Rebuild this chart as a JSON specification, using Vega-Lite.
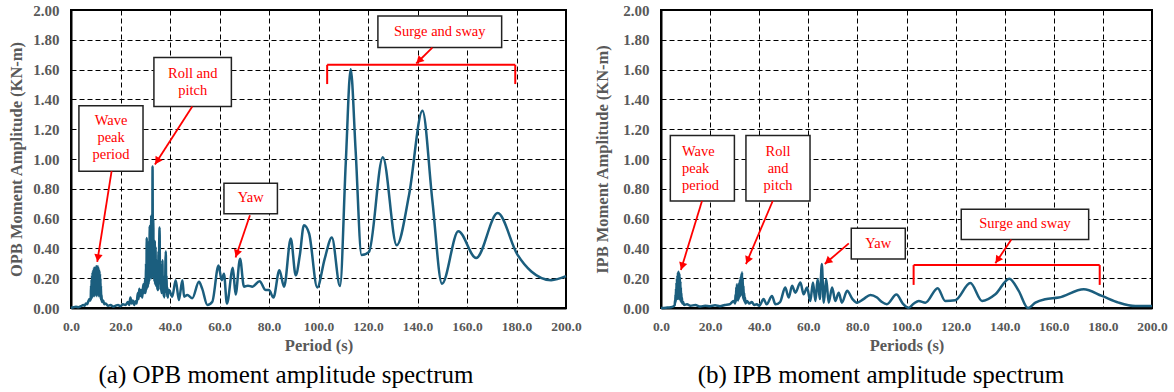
{
  "$schema": "https://vega.github.io/schema/vega-lite/v6.json",
  "background": "white",
  "padding": {"left": 7, "top": 2, "right": 0, "bottom": 0},
  "spacing": 10,
  "config": {
    "font": "Liberation Serif",
    "view": {"stroke": "black", "strokeWidth": 2},
    "axis": {
      "labelFont": "Liberation Serif", "labelFontWeight": "bold", "labelColor": "#595959", "labelFontSize": 15,
      "titleFont": "Liberation Serif", "titleFontWeight": "bold", "titleColor": "#595959", "titleFontSize": 16.5,
      "ticks": false, "domainColor": "black", "domainWidth": 2, "labelOverlap": false,
      "gridColor": "black", "gridDash": [5, 3], "gridWidth": 1, "gridOpacity": 1
    }
  },
  "datasets": {
    "opb": [
      {"period": 0, "amplitude": 0.0}, {"period": 1, "amplitude": 0.005}, {"period": 2, "amplitude": 0.008}, {"period": 3, "amplitude": 0.005},
      {"period": 4, "amplitude": 0.012}, {"period": 5, "amplitude": 0.02}, {"period": 5.5, "amplitude": 0.015}, {"period": 6, "amplitude": 0.03},
      {"period": 6.5, "amplitude": 0.025}, {"period": 7, "amplitude": 0.045}, {"period": 7.5, "amplitude": 0.06}, {"period": 7.8, "amplitude": 0.05},
      {"period": 8.0, "amplitude": 0.08}, {"period": 8.1, "amplitude": 0.15}, {"period": 8.2, "amplitude": 0.06}, {"period": 8.3, "amplitude": 0.19},
      {"period": 8.4, "amplitude": 0.08}, {"period": 8.5, "amplitude": 0.22}, {"period": 8.6, "amplitude": 0.07}, {"period": 8.7, "amplitude": 0.24},
      {"period": 8.8, "amplitude": 0.09}, {"period": 8.9, "amplitude": 0.25}, {"period": 9.0, "amplitude": 0.08}, {"period": 9.1, "amplitude": 0.26},
      {"period": 9.2, "amplitude": 0.1}, {"period": 9.3, "amplitude": 0.27}, {"period": 9.4, "amplitude": 0.08}, {"period": 9.5, "amplitude": 0.27},
      {"period": 9.6, "amplitude": 0.1}, {"period": 9.7, "amplitude": 0.26}, {"period": 9.8, "amplitude": 0.09}, {"period": 9.9, "amplitude": 0.27},
      {"period": 10.0, "amplitude": 0.1}, {"period": 10.1, "amplitude": 0.28}, {"period": 10.2, "amplitude": 0.08}, {"period": 10.3, "amplitude": 0.28},
      {"period": 10.4, "amplitude": 0.1}, {"period": 10.5, "amplitude": 0.28}, {"period": 10.6, "amplitude": 0.09}, {"period": 10.7, "amplitude": 0.27},
      {"period": 10.8, "amplitude": 0.1}, {"period": 10.9, "amplitude": 0.28}, {"period": 11.0, "amplitude": 0.08}, {"period": 11.1, "amplitude": 0.27},
      {"period": 11.2, "amplitude": 0.1}, {"period": 11.3, "amplitude": 0.26}, {"period": 11.4, "amplitude": 0.09}, {"period": 11.5, "amplitude": 0.25},
      {"period": 11.6, "amplitude": 0.08}, {"period": 11.7, "amplitude": 0.23}, {"period": 11.8, "amplitude": 0.07}, {"period": 11.9, "amplitude": 0.2},
      {"period": 12.0, "amplitude": 0.06}, {"period": 12.1, "amplitude": 0.15}, {"period": 12.2, "amplitude": 0.05}, {"period": 12.3, "amplitude": 0.09},
      {"period": 12.5, "amplitude": 0.04}, {"period": 13, "amplitude": 0.05}, {"period": 13.5, "amplitude": 0.025}, {"period": 14, "amplitude": 0.03},
      {"period": 15, "amplitude": 0.015}, {"period": 16, "amplitude": 0.02}, {"period": 17, "amplitude": 0.01}, {"period": 18, "amplitude": 0.015},
      {"period": 19, "amplitude": 0.02}, {"period": 20, "amplitude": 0.012}, {"period": 21, "amplitude": 0.025}, {"period": 22, "amplitude": 0.02},
      {"period": 23, "amplitude": 0.04}, {"period": 23.5, "amplitude": 0.02}, {"period": 24, "amplitude": 0.07}, {"period": 24.5, "amplitude": 0.03},
      {"period": 25, "amplitude": 0.05}, {"period": 25.5, "amplitude": 0.02}, {"period": 26, "amplitude": 0.045}, {"period": 26.5, "amplitude": 0.03},
      {"period": 27, "amplitude": 0.1}, {"period": 27.3, "amplitude": 0.06}, {"period": 27.6, "amplitude": 0.13}, {"period": 28, "amplitude": 0.08},
      {"period": 28.4, "amplitude": 0.12}, {"period": 28.8, "amplitude": 0.07}, {"period": 29.2, "amplitude": 0.16}, {"period": 29.6, "amplitude": 0.1},
      {"period": 30.0, "amplitude": 0.2}, {"period": 30.15, "amplitude": 0.1}, {"period": 30.3, "amplitude": 0.3}, {"period": 30.45, "amplitude": 0.12},
      {"period": 30.6, "amplitude": 0.47}, {"period": 30.75, "amplitude": 0.15}, {"period": 30.9, "amplitude": 0.35}, {"period": 31.05, "amplitude": 0.14},
      {"period": 31.2, "amplitude": 0.4}, {"period": 31.35, "amplitude": 0.16}, {"period": 31.5, "amplitude": 0.45}, {"period": 31.65, "amplitude": 0.18},
      {"period": 31.8, "amplitude": 0.55}, {"period": 31.95, "amplitude": 0.2}, {"period": 32.1, "amplitude": 0.5}, {"period": 32.25, "amplitude": 0.22},
      {"period": 32.4, "amplitude": 0.62}, {"period": 32.55, "amplitude": 0.2}, {"period": 32.7, "amplitude": 0.45}, {"period": 32.85, "amplitude": 0.3},
      {"period": 32.95, "amplitude": 0.95}, {"period": 33.1, "amplitude": 0.3}, {"period": 33.25, "amplitude": 0.6}, {"period": 33.4, "amplitude": 0.2},
      {"period": 33.55, "amplitude": 0.42}, {"period": 33.7, "amplitude": 0.18}, {"period": 33.85, "amplitude": 0.45}, {"period": 34.0, "amplitude": 0.16},
      {"period": 34.15, "amplitude": 0.41}, {"period": 34.3, "amplitude": 0.15}, {"period": 34.45, "amplitude": 0.33}, {"period": 34.6, "amplitude": 0.14},
      {"period": 34.75, "amplitude": 0.3}, {"period": 34.9, "amplitude": 0.12}, {"period": 35.05, "amplitude": 0.28}, {"period": 35.2, "amplitude": 0.12},
      {"period": 35.35, "amplitude": 0.38}, {"period": 35.5, "amplitude": 0.2}, {"period": 35.65, "amplitude": 0.45}, {"period": 35.8, "amplitude": 0.54},
      {"period": 35.95, "amplitude": 0.2}, {"period": 36.1, "amplitude": 0.3}, {"period": 36.25, "amplitude": 0.12}, {"period": 36.4, "amplitude": 0.26},
      {"period": 36.55, "amplitude": 0.1}, {"period": 36.7, "amplitude": 0.25}, {"period": 36.85, "amplitude": 0.12}, {"period": 36.95, "amplitude": 0.32},
      {"period": 37.1, "amplitude": 0.1}, {"period": 37.25, "amplitude": 0.2}, {"period": 37.4, "amplitude": 0.08}, {"period": 37.55, "amplitude": 0.18},
      {"period": 37.7, "amplitude": 0.07}, {"period": 37.85, "amplitude": 0.22}, {"period": 38.0, "amplitude": 0.1}, {"period": 38.15, "amplitude": 0.3},
      {"period": 38.3, "amplitude": 0.38}, {"period": 38.45, "amplitude": 0.15}, {"period": 38.6, "amplitude": 0.22}, {"period": 38.75, "amplitude": 0.08},
      {"period": 38.9, "amplitude": 0.14}, {"period": 39.1, "amplitude": 0.07}, {"period": 39.3, "amplitude": 0.12}, {"period": 39.6, "amplitude": 0.12},
      {"period": 40.9, "amplitude": 0.076}, {"period": 42.3, "amplitude": 0.187}, {"period": 43.6, "amplitude": 0.054},
      {"period": 45, "amplitude": 0.187}, {"period": 45.7, "amplitude": 0.076}, {"period": 47, "amplitude": 0.087}, {"period": 49, "amplitude": 0.065},
      {"period": 51.7, "amplitude": 0.176}, {"period": 53, "amplitude": 0.13}, {"period": 55.1, "amplitude": 0.02}, {"period": 57.1, "amplitude": 0.042},
      {"period": 59.6, "amplitude": 0.285}, {"period": 60.9, "amplitude": 0.187}, {"period": 61.8, "amplitude": 0.23}, {"period": 63.0, "amplitude": 0.03},
      {"period": 65.4, "amplitude": 0.27}, {"period": 66.5, "amplitude": 0.09}, {"period": 68.3, "amplitude": 0.33}, {"period": 69.9, "amplitude": 0.143},
      {"period": 71.5, "amplitude": 0.15}, {"period": 73.3, "amplitude": 0.143}, {"period": 76.2, "amplitude": 0.18}, {"period": 78.7, "amplitude": 0.12},
      {"period": 80, "amplitude": 0.12}, {"period": 81.8, "amplitude": 0.07}, {"period": 84.2, "amplitude": 0.254}, {"period": 86.1, "amplitude": 0.143},
      {"period": 88.8, "amplitude": 0.466}, {"period": 90.8, "amplitude": 0.22}, {"period": 92.5, "amplitude": 0.36}, {"period": 94.1, "amplitude": 0.555},
      {"period": 96.2, "amplitude": 0.5}, {"period": 99.5, "amplitude": 0.138}, {"period": 102.5, "amplitude": 0.33}, {"period": 105.4, "amplitude": 0.473},
      {"period": 108.7, "amplitude": 0.147}, {"period": 111, "amplitude": 0.968}, {"period": 113, "amplitude": 1.603}, {"period": 115, "amplitude": 1.057},
      {"period": 117.4, "amplitude": 0.355}, {"period": 120.4, "amplitude": 0.377}, {"period": 126, "amplitude": 1.012}, {"period": 131.6, "amplitude": 0.421},
      {"period": 136.6, "amplitude": 0.76}, {"period": 142, "amplitude": 1.324}, {"period": 146, "amplitude": 0.722}, {"period": 149.9, "amplitude": 0.163},
      {"period": 156.5, "amplitude": 0.515}, {"period": 163.7, "amplitude": 0.335}, {"period": 172.4, "amplitude": 0.637}, {"period": 180.3, "amplitude": 0.36},
      {"period": 186, "amplitude": 0.245}, {"period": 194, "amplitude": 0.187}, {"period": 200, "amplitude": 0.214}
    ],
    "ipb": [
      {"period": 0, "amplitude": 0.0}, {"period": 2, "amplitude": 0.002}, {"period": 4, "amplitude": 0.005}, {"period": 5, "amplitude": 0.01},
      {"period": 5.6, "amplitude": 0.02}, {"period": 5.7, "amplitude": 0.05}, {"period": 5.8, "amplitude": 0.03}, {"period": 5.9, "amplitude": 0.09},
      {"period": 6.0, "amplitude": 0.04}, {"period": 6.1, "amplitude": 0.13}, {"period": 6.2, "amplitude": 0.05}, {"period": 6.3, "amplitude": 0.17},
      {"period": 6.4, "amplitude": 0.06}, {"period": 6.5, "amplitude": 0.2}, {"period": 6.6, "amplitude": 0.07}, {"period": 6.7, "amplitude": 0.22},
      {"period": 6.8, "amplitude": 0.06}, {"period": 6.9, "amplitude": 0.24}, {"period": 7.0, "amplitude": 0.07}, {"period": 7.1, "amplitude": 0.245},
      {"period": 7.2, "amplitude": 0.06}, {"period": 7.3, "amplitude": 0.24}, {"period": 7.4, "amplitude": 0.07}, {"period": 7.5, "amplitude": 0.23},
      {"period": 7.6, "amplitude": 0.06}, {"period": 7.7, "amplitude": 0.21}, {"period": 7.8, "amplitude": 0.05}, {"period": 7.9, "amplitude": 0.18},
      {"period": 8.0, "amplitude": 0.05}, {"period": 8.1, "amplitude": 0.14}, {"period": 8.2, "amplitude": 0.04}, {"period": 8.3, "amplitude": 0.1},
      {"period": 8.4, "amplitude": 0.04}, {"period": 8.5, "amplitude": 0.07}, {"period": 8.7, "amplitude": 0.03}, {"period": 9.0, "amplitude": 0.04},
      {"period": 9.4, "amplitude": 0.02}, {"period": 10.6, "amplitude": 0.025},
      {"period": 12, "amplitude": 0.015}, {"period": 14, "amplitude": 0.02}, {"period": 16, "amplitude": 0.01}, {"period": 18, "amplitude": 0.015},
      {"period": 20, "amplitude": 0.012}, {"period": 22, "amplitude": 0.018}, {"period": 24, "amplitude": 0.012}, {"period": 26, "amplitude": 0.02},
      {"period": 28, "amplitude": 0.025}, {"period": 29.6, "amplitude": 0.047},
      {"period": 30.2, "amplitude": 0.03}, {"period": 30.35, "amplitude": 0.09}, {"period": 30.5, "amplitude": 0.04}, {"period": 30.65, "amplitude": 0.14},
      {"period": 30.8, "amplitude": 0.05}, {"period": 30.95, "amplitude": 0.16}, {"period": 31.1, "amplitude": 0.06}, {"period": 31.25, "amplitude": 0.12},
      {"period": 31.4, "amplitude": 0.05}, {"period": 31.55, "amplitude": 0.14}, {"period": 31.7, "amplitude": 0.06}, {"period": 31.85, "amplitude": 0.17},
      {"period": 32.0, "amplitude": 0.07}, {"period": 32.15, "amplitude": 0.19}, {"period": 32.3, "amplitude": 0.08}, {"period": 32.45, "amplitude": 0.21},
      {"period": 32.6, "amplitude": 0.09}, {"period": 32.75, "amplitude": 0.23}, {"period": 32.9, "amplitude": 0.1}, {"period": 33.0, "amplitude": 0.24},
      {"period": 33.15, "amplitude": 0.08}, {"period": 33.3, "amplitude": 0.2}, {"period": 33.45, "amplitude": 0.06}, {"period": 33.6, "amplitude": 0.15},
      {"period": 33.75, "amplitude": 0.05}, {"period": 33.9, "amplitude": 0.1}, {"period": 34.05, "amplitude": 0.04}, {"period": 34.2, "amplitude": 0.07},
      {"period": 34.4, "amplitude": 0.03}, {"period": 35, "amplitude": 0.047}, {"period": 36, "amplitude": 0.03},
      {"period": 37, "amplitude": 0.04}, {"period": 38, "amplitude": 0.02}, {"period": 39, "amplitude": 0.025}, {"period": 40, "amplitude": 0.015},
      {"period": 41.8, "amplitude": 0.06}, {"period": 43, "amplitude": 0.025}, {"period": 45.2, "amplitude": 0.08}, {"period": 46.6, "amplitude": 0.025},
      {"period": 48.5, "amplitude": 0.04}, {"period": 50.6, "amplitude": 0.137}, {"period": 52, "amplitude": 0.07}, {"period": 53.4, "amplitude": 0.149},
      {"period": 54.7, "amplitude": 0.103}, {"period": 56.8, "amplitude": 0.171}, {"period": 58.1, "amplitude": 0.092}, {"period": 59.5, "amplitude": 0.137},
      {"period": 60.8, "amplitude": 0.047}, {"period": 61.9, "amplitude": 0.171}, {"period": 62.9, "amplitude": 0.047}, {"period": 63.8, "amplitude": 0.194},
      {"period": 64.7, "amplitude": 0.06}, {"period": 65.5, "amplitude": 0.295}, {"period": 66.3, "amplitude": 0.036}, {"period": 67.3, "amplitude": 0.194},
      {"period": 68.3, "amplitude": 0.036}, {"period": 69.7, "amplitude": 0.137}, {"period": 71, "amplitude": 0.047}, {"period": 72.4, "amplitude": 0.103},
      {"period": 73.7, "amplitude": 0.036}, {"period": 75.8, "amplitude": 0.115}, {"period": 78, "amplitude": 0.06}, {"period": 79.8, "amplitude": 0.036},
      {"period": 82.5, "amplitude": 0.06}, {"period": 85.3, "amplitude": 0.088}, {"period": 88, "amplitude": 0.07}, {"period": 90, "amplitude": 0.04},
      {"period": 92, "amplitude": 0.025}, {"period": 95.9, "amplitude": 0.09}, {"period": 98.5, "amplitude": 0.03}, {"period": 100.9, "amplitude": 0.002},
      {"period": 103, "amplitude": 0.03}, {"period": 105, "amplitude": 0.047}, {"period": 107.7, "amplitude": 0.036}, {"period": 112.7, "amplitude": 0.133},
      {"period": 115.8, "amplitude": 0.047}, {"period": 119.9, "amplitude": 0.052}, {"period": 126, "amplitude": 0.167}, {"period": 130.8, "amplitude": 0.047},
      {"period": 136.2, "amplitude": 0.092}, {"period": 141.9, "amplitude": 0.197}, {"period": 145.7, "amplitude": 0.115}, {"period": 149.5, "amplitude": 0.0},
      {"period": 152.5, "amplitude": 0.036}, {"period": 156.5, "amplitude": 0.059}, {"period": 162, "amplitude": 0.07}, {"period": 172.2, "amplitude": 0.126},
      {"period": 179.6, "amplitude": 0.081}, {"period": 186.4, "amplitude": 0.036}, {"period": 193.2, "amplitude": 0.013}, {"period": 200, "amplitude": 0.013}
    ],
    "boxesA": [
      {"period": 3.2, "period2": 29.1, "amplitude": 1.358, "amplitude2": 0.918},
      {"period": 33.5, "period2": 64.8, "amplitude": 1.681, "amplitude2": 1.353},
      {"period": 61.8, "period2": 83.4, "amplitude": 0.838, "amplitude2": 0.633},
      {"period": 124, "period2": 174, "amplitude": 1.96, "amplitude2": 1.748}
    ],
    "textA": [
      {"period": 16.2, "amplitude": 1.253, "label": "Wave\npeak\nperiod"},
      {"period": 49.2, "amplitude": 1.57, "label": "Roll and\npitch"},
      {"period": 72.6, "amplitude": 0.736, "label": "Yaw"},
      {"period": 149, "amplitude": 1.853, "label": "Surge and sway"}
    ],
    "arrowsA": [
      {"name": "wave", "period": 16.4, "amplitude": 0.918, "period2": 10.6, "amplitude2": 0.31, "headPeriod": 10.87, "headAmp": 0.336},
      {"name": "roll", "period": 49, "amplitude": 1.353, "period2": 33.9, "amplitude2": 0.963, "headPeriod": 34.8, "headAmp": 0.986},
      {"name": "yaw", "period": 72.3, "amplitude": 0.622, "period2": 66.5, "amplitude2": 0.339, "headPeriod": 67.0, "headAmp": 0.365},
      {"name": "surge", "period": 146, "amplitude": 1.748, "period2": 139.5, "amplitude2": 1.641, "headPeriod": 140.6, "headAmp": 1.66}
    ],
    "bracketA": [
      {"period": 103.5, "amplitude": 1.632, "period2": 179.5, "amplitude2": 1.632},
      {"period": 103.5, "amplitude": 1.632, "period2": 103.5, "amplitude2": 1.503},
      {"period": 179.5, "amplitude": 1.632, "period2": 179.5, "amplitude2": 1.503}
    ],
    "boxesB": [
      {"period": 3.8, "period2": 29.9, "amplitude": 1.157, "amplitude2": 0.718},
      {"period": 34.6, "period2": 60.7, "amplitude": 1.157, "amplitude2": 0.718},
      {"period": 77.5, "period2": 99.5, "amplitude": 0.536, "amplitude2": 0.329},
      {"period": 122.3, "period2": 174.2, "amplitude": 0.662, "amplitude2": 0.459}
    ],
    "textB": [
      {"period": 47.7, "amplitude": 1.047, "label": "Roll\nand\npitch"},
      {"period": 88.5, "amplitude": 0.432, "label": "Yaw"},
      {"period": 148.3, "amplitude": 0.561, "label": "Surge and sway"}
    ],
    "textBLeft": [
      {"period": 8.55, "amplitude": 1.049, "label": "Wave\npeak\nperiod"}
    ],
    "arrowsB": [
      {"name": "wave", "period": 16.7, "amplitude": 0.718, "period2": 8.1, "amplitude2": 0.255, "headPeriod": 8.6, "headAmp": 0.28},
      {"name": "roll", "period": 45.5, "amplitude": 0.718, "period2": 34.6, "amplitude2": 0.295, "headPeriod": 35.3, "headAmp": 0.32},
      {"name": "yaw", "period": 76.5, "amplitude": 0.434, "period2": 66.7, "amplitude2": 0.295, "headPeriod": 67.9, "headAmp": 0.313},
      {"name": "surge", "period": 142.7, "amplitude": 0.459, "period2": 136.2, "amplitude2": 0.3, "headPeriod": 137.1, "headAmp": 0.322}
    ],
    "bracketB": [
      {"period": 102.9, "amplitude": 0.288, "period2": 178.7, "amplitude2": 0.288},
      {"period": 102.9, "amplitude": 0.288, "period2": 102.9, "amplitude2": 0.155},
      {"period": 178.7, "amplitude": 0.288, "period2": 178.7, "amplitude2": 0.155}
    ]
  },
  "hconcat": [
    {
      "width": 495,
      "height": 298,
      "title": {"text": "(a) OPB moment amplitude spectrum", "orient": "bottom", "anchor": "middle", "frame": "bounds", "font": "Liberation Serif", "fontSize": 25, "fontWeight": "normal", "color": "black", "offset": 9, "dx": -9},
      "layer": [
        {
          "data": {"name": "opb"},
          "mark": {"type": "line", "interpolate": "monotone", "color": "#1b5e7e", "strokeWidth": 2.5},
          "encoding": {
            "x": {"field": "period", "type": "quantitative", "scale": {"domain": [0, 200], "nice": false},
                  "axis": {"title": "Period (s)", "values": [0, 20, 40, 60, 80, 100, 120, 140, 160, 180, 200], "format": ".1f", "labelFlush": false, "labelFontSize": 13.5, "labelPadding": 11, "titlePadding": 5, "grid": true}},
            "y": {"field": "amplitude", "type": "quantitative", "scale": {"domain": [0, 2], "nice": false},
                  "axis": {"title": "OPB Moment Amplitude (KN-m)", "values": [0, 0.2, 0.4, 0.6, 0.8, 1.0, 1.2, 1.4, 1.6, 1.8, 2.0], "tickCount": 11, "format": ".2f", "labelPadding": 12, "titlePadding": 8, "grid": true}}
          }
        },
        {
          "data": {"name": "bracketA"},
          "mark": {"type": "rule", "color": "#ff0000", "strokeWidth": 2},
          "encoding": {
            "x": {"field": "period", "type": "quantitative"}, "y": {"field": "amplitude", "type": "quantitative"},
            "x2": {"field": "period2"}, "y2": {"field": "amplitude2"}
          }
        },
        {
          "data": {"name": "boxesA"},
          "mark": {"type": "rect", "fill": "white", "stroke": "#222222", "strokeWidth": 1.5},
          "encoding": {
            "x": {"field": "period", "type": "quantitative"}, "y": {"field": "amplitude", "type": "quantitative"},
            "x2": {"field": "period2"}, "y2": {"field": "amplitude2"}
          }
        },
        {
          "data": {"name": "textA"},
          "mark": {"type": "text", "color": "#ff0000", "font": "Liberation Serif", "fontSize": 14.5, "lineBreak": "\n", "lineHeight": 17, "align": "center", "baseline": "middle"},
          "encoding": {
            "x": {"field": "period", "type": "quantitative"}, "y": {"field": "amplitude", "type": "quantitative"},
            "text": {"field": "label", "type": "nominal"}
          }
        },
        {
          "data": {"name": "arrowsA"},
          "mark": {"type": "rule", "color": "#ff0000", "strokeWidth": 1.8},
          "encoding": {
            "x": {"field": "period", "type": "quantitative"}, "y": {"field": "amplitude", "type": "quantitative"},
            "x2": {"field": "period2"}, "y2": {"field": "amplitude2"}
          }
        },
        {
          "data": {"name": "arrowsA"}, "transform": [{"filter": "datum.name === 'wave'"}],
          "mark": {"type": "point", "shape": "triangle-up", "filled": true, "color": "#ff0000", "opacity": 1, "size": 70, "angle": 189},
          "encoding": {"x": {"field": "headPeriod", "type": "quantitative"}, "y": {"field": "headAmp", "type": "quantitative"}}
        },
        {
          "data": {"name": "arrowsA"}, "transform": [{"filter": "datum.name === 'roll'"}],
          "mark": {"type": "point", "shape": "triangle-up", "filled": true, "color": "#ff0000", "opacity": 1, "size": 70, "angle": 212.6},
          "encoding": {"x": {"field": "headPeriod", "type": "quantitative"}, "y": {"field": "headAmp", "type": "quantitative"}}
        },
        {
          "data": {"name": "arrowsA"}, "transform": [{"filter": "datum.name === 'yaw'"}],
          "mark": {"type": "point", "shape": "triangle-up", "filled": true, "color": "#ff0000", "opacity": 1, "size": 70, "angle": 198.7},
          "encoding": {"x": {"field": "headPeriod", "type": "quantitative"}, "y": {"field": "headAmp", "type": "quantitative"}}
        },
        {
          "data": {"name": "arrowsA"}, "transform": [{"filter": "datum.name === 'surge'"}],
          "mark": {"type": "point", "shape": "triangle-up", "filled": true, "color": "#ff0000", "opacity": 1, "size": 70, "angle": 225},
          "encoding": {"x": {"field": "headPeriod", "type": "quantitative"}, "y": {"field": "headAmp", "type": "quantitative"}}
        }
      ]
    },
    {
      "width": 491,
      "height": 298,
      "title": {"text": "(b) IPB moment amplitude spectrum", "orient": "bottom", "anchor": "middle", "frame": "bounds", "font": "Liberation Serif", "fontSize": 25, "fontWeight": "normal", "color": "black", "offset": 9},
      "layer": [
        {
          "data": {"name": "ipb"},
          "mark": {"type": "line", "interpolate": "monotone", "color": "#1b5e7e", "strokeWidth": 2.5},
          "encoding": {
            "x": {"field": "period", "type": "quantitative", "scale": {"domain": [0, 200], "nice": false},
                  "axis": {"title": "Periods (s)", "values": [0, 20, 40, 60, 80, 100, 120, 140, 160, 180, 200], "format": ".1f", "labelFlush": false, "labelFontSize": 13.5, "labelPadding": 11, "titlePadding": 5, "grid": true}},
            "y": {"field": "amplitude", "type": "quantitative", "scale": {"domain": [0, 2], "nice": false},
                  "axis": {"title": "IPB Moment Amplitude (KN-m)", "values": [0, 0.2, 0.4, 0.6, 0.8, 1.0, 1.2, 1.4, 1.6, 1.8, 2.0], "tickCount": 11, "format": ".2f", "labelPadding": 12, "titlePadding": 12, "grid": true}}
          }
        },
        {
          "data": {"name": "bracketB"},
          "mark": {"type": "rule", "color": "#ff0000", "strokeWidth": 2},
          "encoding": {
            "x": {"field": "period", "type": "quantitative"}, "y": {"field": "amplitude", "type": "quantitative"},
            "x2": {"field": "period2"}, "y2": {"field": "amplitude2"}
          }
        },
        {
          "data": {"name": "boxesB"},
          "mark": {"type": "rect", "fill": "white", "stroke": "#222222", "strokeWidth": 1.5},
          "encoding": {
            "x": {"field": "period", "type": "quantitative"}, "y": {"field": "amplitude", "type": "quantitative"},
            "x2": {"field": "period2"}, "y2": {"field": "amplitude2"}
          }
        },
        {
          "data": {"name": "textB"},
          "mark": {"type": "text", "color": "#ff0000", "font": "Liberation Serif", "fontSize": 14.5, "lineBreak": "\n", "lineHeight": 17, "align": "center", "baseline": "middle"},
          "encoding": {
            "x": {"field": "period", "type": "quantitative"}, "y": {"field": "amplitude", "type": "quantitative"},
            "text": {"field": "label", "type": "nominal"}
          }
        },
        {
          "data": {"name": "textBLeft"},
          "mark": {"type": "text", "color": "#ff0000", "font": "Liberation Serif", "fontSize": 14.5, "lineBreak": "\n", "lineHeight": 17, "align": "left", "baseline": "middle"},
          "encoding": {
            "x": {"field": "period", "type": "quantitative"}, "y": {"field": "amplitude", "type": "quantitative"},
            "text": {"field": "label", "type": "nominal"}
          }
        },
        {
          "data": {"name": "arrowsB"},
          "mark": {"type": "rule", "color": "#ff0000", "strokeWidth": 1.8},
          "encoding": {
            "x": {"field": "period", "type": "quantitative"}, "y": {"field": "amplitude", "type": "quantitative"},
            "x2": {"field": "period2"}, "y2": {"field": "amplitude2"}
          }
        },
        {
          "data": {"name": "arrowsB"}, "transform": [{"filter": "datum.name === 'wave'"}],
          "mark": {"type": "point", "shape": "triangle-up", "filled": true, "color": "#ff0000", "opacity": 1, "size": 70, "angle": 197},
          "encoding": {"x": {"field": "headPeriod", "type": "quantitative"}, "y": {"field": "headAmp", "type": "quantitative"}}
        },
        {
          "data": {"name": "arrowsB"}, "transform": [{"filter": "datum.name === 'roll'"}],
          "mark": {"type": "point", "shape": "triangle-up", "filled": true, "color": "#ff0000", "opacity": 1, "size": 70, "angle": 203.1},
          "encoding": {"x": {"field": "headPeriod", "type": "quantitative"}, "y": {"field": "headAmp", "type": "quantitative"}}
        },
        {
          "data": {"name": "arrowsB"}, "transform": [{"filter": "datum.name === 'yaw'"}],
          "mark": {"type": "point", "shape": "triangle-up", "filled": true, "color": "#ff0000", "opacity": 1, "size": 70, "angle": 229.4},
          "encoding": {"x": {"field": "headPeriod", "type": "quantitative"}, "y": {"field": "headAmp", "type": "quantitative"}}
        },
        {
          "data": {"name": "arrowsB"}, "transform": [{"filter": "datum.name === 'surge'"}],
          "mark": {"type": "point", "shape": "triangle-up", "filled": true, "color": "#ff0000", "opacity": 1, "size": 70, "angle": 214},
          "encoding": {"x": {"field": "headPeriod", "type": "quantitative"}, "y": {"field": "headAmp", "type": "quantitative"}}
        }
      ]
    }
  ]
}
